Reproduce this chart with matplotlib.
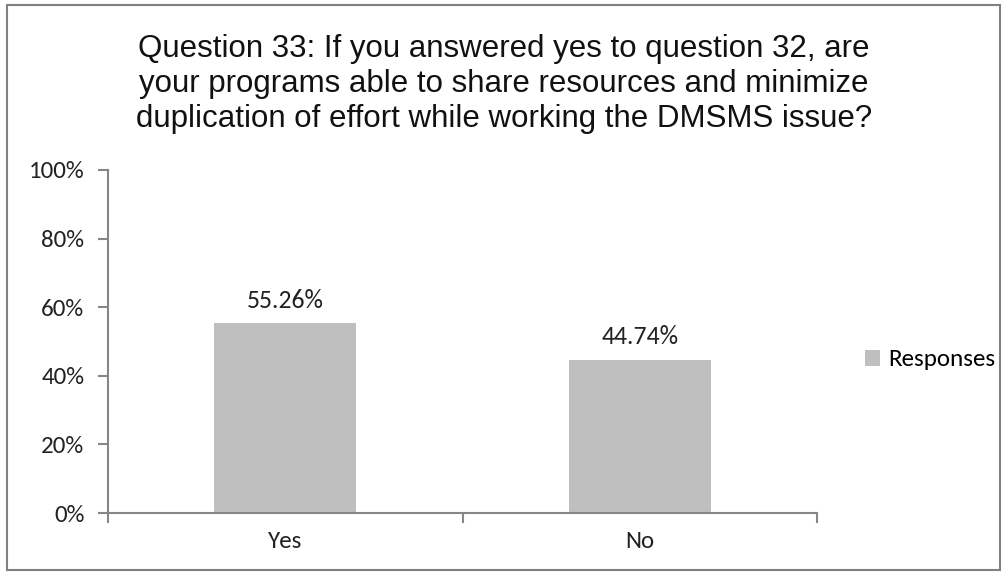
import matplotlib.pyplot as plt
from matplotlib.patches import Rectangle
from matplotlib.ticker import FixedLocator, PercentFormatter

categories = ["Yes", "No"]
responses = [55.26, 44.74]
y_ticks = [0, 20, 40, 60, 80, 100]
title = ("Question 33: If you answered yes to question 32, are\n"
         "your programs able to share resources and minimize\n"
         "duplication of effort while working the DMSMS issue?")

label_font = ["Carlito", "Lato", "DejaVu Sans"]
title_font = ["Liberation Sans", "DejaVu Sans"]
axis_grey = "#868686"
bar_grey = "#BFBFBF"
text_col = "#222222"

fig = plt.figure(figsize=(10.08, 5.76), dpi=100)
fig.patches.append(Rectangle((7 / 1008, 1 - 570 / 576), 993 / 1008, 565 / 576,
                             transform=fig.transFigure, fill=False,
                             edgecolor="#808080", linewidth=1.5))

ax = fig.add_axes([108 / 1008, 1 - 513 / 576, 709 / 1008, 343 / 576])
x = range(len(categories))
bars = ax.bar(x, responses, width=0.4, color=bar_grey, label="Responses")

for b, v in zip(bars, responses):
    ax.text(b.get_x() + b.get_width() / 2, v + 3.3, f"{v:.2f}%",
            ha="center", va="bottom", fontsize=18.5, family=label_font, color=text_col)

ax.set_xlim(-0.5, len(categories) - 0.5)
ax.set_ylim(0, 100)
ax.set_yticks(y_ticks)
ax.yaxis.set_major_formatter(PercentFormatter(decimals=0))
ax.set_xticks(list(x))
ax.set_xticklabels(categories)
ax.xaxis.set_minor_locator(FixedLocator([-0.5, 0.5, 1.5]))
ax.tick_params(axis="x", which="major", length=0, pad=13)
ax.tick_params(axis="x", which="minor", length=7, width=1.5, color=axis_grey)
ax.tick_params(axis="y", length=7, width=1.5, color=axis_grey, pad=10)
for lbl in ax.get_xticklabels() + ax.get_yticklabels():
    lbl.set_fontsize(18)
    lbl.set_family(label_font)
    lbl.set_color(text_col)

for side in ["top", "right"]:
    ax.spines[side].set_visible(False)
for side in ["left", "bottom"]:
    ax.spines[side].set_color(axis_grey)
    ax.spines[side].set_linewidth(1.5)

fig.text(0.5, 1 - 84 / 576, title, ha="center", va="center", fontsize=22.5,
         family=title_font, linespacing=1.2, color="#111111")

fig.legend(loc="center left", bbox_to_anchor=(842 / 1008, 1 - 360 / 576),
           frameon=False, handlelength=0.6, handleheight=0.6, handletextpad=0.35,
           prop={"family": label_font, "size": 18})

fig.savefig("out.png", dpi=100)
